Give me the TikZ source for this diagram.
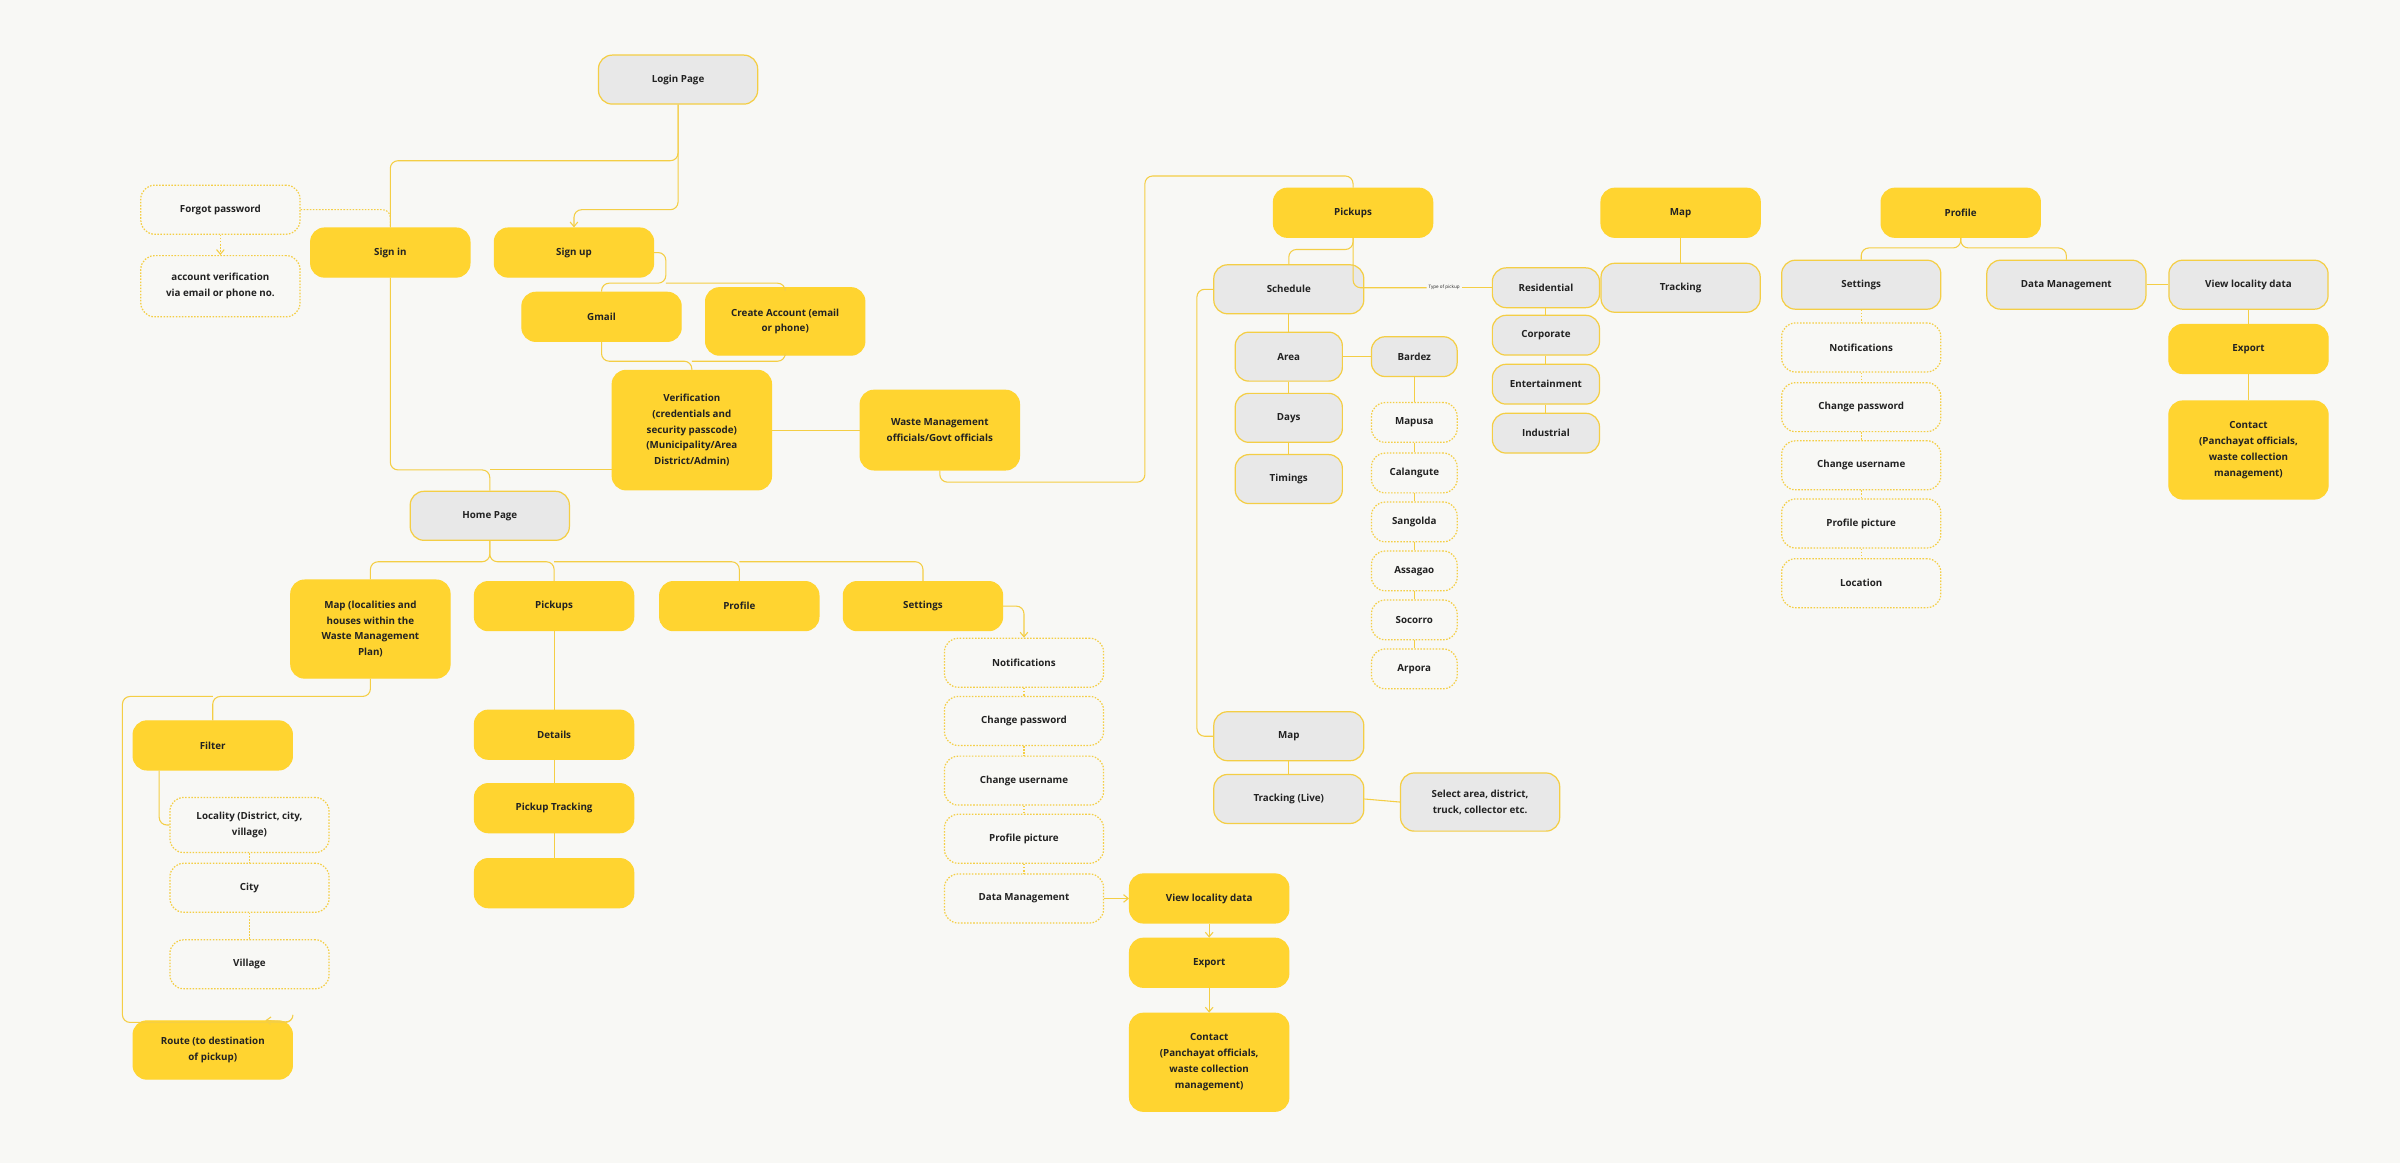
\documentclass[tikz,border=0pt]{standalone}
\usepackage{fontspec}
\setmainfont{Open Sans}
\usetikzlibrary{arrows.meta}
\definecolor{bgc}{HTML}{F8F8F5}
\definecolor{yel}{HTML}{FFD430}
\definecolor{bord}{HTML}{F4CE45}
\definecolor{gry}{HTML}{E8E8E8}
\definecolor{txt}{HTML}{222222}
\begin{document}
\begin{tikzpicture}[x=1pt,y=-1pt,
 base/.style={rounded corners=9pt,minimum width=104pt,minimum height=32pt,align=center,font=\fontsize{6.4}{10.4}\selectfont\bfseries,text=txt,inner sep=2pt,line width=0.8pt},
 Y/.style={base,fill=yel,draw=yel},
 G/.style={base,fill=gry,draw=bord},
 D/.style={base,fill=bgc,draw=bord,dash pattern=on 1pt off 1pt},
 ln/.style={draw=bord,line width=0.7pt,rounded corners=5pt},
 dl/.style={ln,dash pattern=on 1pt off 1pt},
 ar/.style={-{Straight Barb[length=3pt,width=5pt]}}]
\fill[bgc] (0,0) rectangle (1568,760);
\useasboundingbox (0,0) rectangle (1568,760);
% left
\node[G] (login) at (443,52) {Login Page};
\node[D] (forgot) at (144,137) {Forgot password};
\node[D,minimum height=40pt] (accv) at (144,187) {account verification\\via email or phone no.};
\node[Y] (signin) at (255,165) {Sign in};
\node[Y] (signup) at (375,165) {Sign up};
\node[Y] (gmail) at (393,207) {Gmail};
\node[Y,minimum height=44pt] (create) at (513,210) {Create Account (email\\or phone)};
\node[Y,minimum height=78pt] (verif) at (452,281) {Verification\\(credentials and\\security passcode)\\(Municipality/Area\\District/Admin)};
\node[Y,minimum height=52pt] (waste) at (614,281) {Waste Management\\officials/Govt officials};
\node[G] (home) at (320,337) {Home Page};
\node[Y,minimum height=64pt] (map) at (242,411) {Map (localities and\\houses within the\\Waste Management\\Plan)};
\node[Y] (pick) at (362,396) {Pickups};
\node[Y] (prof) at (483,396) {Profile};
\node[Y] (sett) at (603,396) {Settings};
\node[D] (s1) at (669,433) {Notifications};
\node[D] (s2) at (669,471) {Change password};
\node[D] (s3) at (669,510) {Change username};
\node[D] (s4) at (669,548) {Profile picture};
\node[D] (s5) at (669,587) {Data Management};
\node[Y] (vld) at (790,587) {View locality data};
\node[Y] (exp) at (790,629) {Export};
\node[Y,minimum height=64pt] (cont) at (790,694) {Contact\\(Panchayat officials,\\waste collection\\management)};
\node[Y] (det) at (362,480) {Details};
\node[Y] (ptr) at (362,528) {Pickup Tracking};
\node[Y] (blank) at (362,577) {};
\node[Y] (filt) at (139,487) {Filter};
\node[D,minimum height=36pt] (loc) at (163,539) {Locality (District, city,\\village)};
\node[D] (city) at (163,580) {City};
\node[D] (vil) at (163,630) {Village};
\node[Y,minimum height=38pt] (route) at (139,686) {Route (to destination\\of pickup)};
% right
\node[Y] (pk2) at (884,139) {Pickups};
\node[G,minimum width=98pt] (sched) at (842,189) {Schedule};
\tikzset{md/.style={minimum width=70pt}}
\node[G,md] (area) at (842,233) {Area};
\node[G,md] (days) at (842,273) {Days};
\node[G,md] (tim) at (842,313) {Timings};
\tikzset{sm/.style={minimum width=56pt,minimum height=26pt}}
\node[G,sm] (bar) at (924,233) {Bardez};
\node[D,sm] (c1) at (924,276) {Mapusa};
\node[D,sm] (c2) at (924,309) {Calangute};
\node[D,sm] (c3) at (924,341) {Sangolda};
\node[D,sm] (c4) at (924,373) {Assagao};
\node[D,sm] (c5) at (924,405) {Socorro};
\node[D,sm] (c6) at (924,437) {Arpora};
\tikzset{tp/.style={minimum width=70pt,minimum height=26pt}}
\node[G,tp] (t1) at (1010,188) {Residential};
\node[G,tp] (t2) at (1010,219) {Corporate};
\node[G,tp] (t3) at (1010,251) {Entertainment};
\node[G,tp] (t4) at (1010,283) {Industrial};
\node[G,minimum width=98pt] (map2) at (842,481) {Map};
\node[G,minimum width=98pt] (trl) at (842,522) {Tracking (Live)};
\node[G,minimum height=38pt] (sel) at (967,524) {Select area, district,\\truck, collector etc.};
\node[Y] (map3) at (1098,139) {Map};
\node[G] (trk) at (1098,188) {Tracking};
\node[Y] (prof2) at (1281,139) {Profile};
\node[G] (ps) at (1216,186) {Settings};
\node[D] (p1) at (1216,227) {Notifications};
\node[D] (p2) at (1216,266) {Change password};
\node[D] (p3) at (1216,304) {Change username};
\node[D] (p4) at (1216,342) {Profile picture};
\node[D] (p5) at (1216,381) {Location};
\node[G] (dm) at (1350,186) {Data Management};
\node[G] (vld2) at (1469,186) {View locality data};
\node[Y] (exp2) at (1469,228) {Export};
\node[Y,minimum height=64pt] (cont2) at (1469,294) {Contact\\(Panchayat officials,\\waste collection\\management)};
% connectors left
\draw[ln] (login.south) -- (login.south |- 0,105) -| (signin.north);
\draw[ln,ar] (login.south) -- (login.south |- 0,137) -| (signup.north);
\draw[dl] (forgot.east) -| (signin.north);
\draw[dl,ar] (forgot.south) -- (accv.north);
\draw[ln] (signup.east) -| (435,185) -| (gmail.north);
\draw[ln] (435,185) -| (create.north);
\draw[ln] (gmail.south) |- (452,236) -- (verif.north);
\draw[ln] (create.south) |- (452,236);
\draw[ln] (verif.east) -- (waste.west);
\draw[ln] (signin.south) |- (320,307) -- (home.north);
\draw[ln] (verif.west |- 0,307) -- (320,307);
\draw[ln] (waste.south) |- (748,315) |- (884,115) -- (pk2.north);
\draw[ln] (home.south) |- (242,367) -- (map.north);
\draw[ln] (home.south) |- (362,367) -- (pick.north);
\draw[ln] (362,367) -| (prof.north);
\draw[ln] (483,367) -| (sett.north);
\draw[ln,ar] (sett.east) -| (s1.north);
\foreach \a/\b in {s1/s2,s2/s3,s3/s4,s4/s5}{\draw[dl] (\a.south) -- (\b.north);}
\draw[ln,ar] (s5.east) -- (vld.west);
\draw[ln,ar] (vld.south) -- (exp.north);
\draw[ln,ar] (exp.south) -- (cont.north);
\draw[ln] (pick.south) -- (det.north);
\draw[ln] (det.south) -- (ptr.north);
\draw[ln] (ptr.south) -- (blank.north);
\draw[ln] (map.south) |- (139,455) -- (filt.north);
\draw[ln,ar] (139,455) -| (80,668) -| (route.north east |- 0,668) -- ([xshift=-18pt]route.north east);
\draw[ln] (filt.south -| 104,0) |- (loc.west);
\draw[dl] (loc.south) -- (city.north);
\draw[dl] (city.south) -- (vil.north);
% connectors right
\draw[ln] (pk2.south) |- (842,163) -- (sched.north);
\draw[ln] (pk2.south) |- (932,188) node[right=0pt,font=\fontsize{3}{3.5}\selectfont,text=txt,fill=bgc,inner sep=1pt] (lab) {Type of pickup};
\draw[ln] (lab.east) -- (t1.west);
\draw[ln] (sched.west) -| (782,481) -- (map2.west);
\foreach \a/\b in {sched/area,area/days,days/tim,bar/c1,c1/c2,c2/c3,c3/c4,c4/c5,c5/c6,t1/t2,t2/t3,t3/t4,map2/trl,map3/trk,vld2/exp2,exp2/cont2}{\draw[ln] (\a.south) -- (\b.north);}
\draw[ln] (area.east) -- (bar.west);
\draw[ln] (trl.east) -- (sel.west);
\draw[ln] (prof2.south) |- (1216,162) -- (ps.north);
\draw[ln] (prof2.south) |- (1350,162) -- (dm.north);
\foreach \a/\b in {ps/p1,p1/p2,p2/p3,p3/p4,p4/p5}{\draw[dl] (\a.south) -- (\b.north);}
\draw[ln] (dm.east) -- (vld2.west);
\end{tikzpicture}
\end{document}
